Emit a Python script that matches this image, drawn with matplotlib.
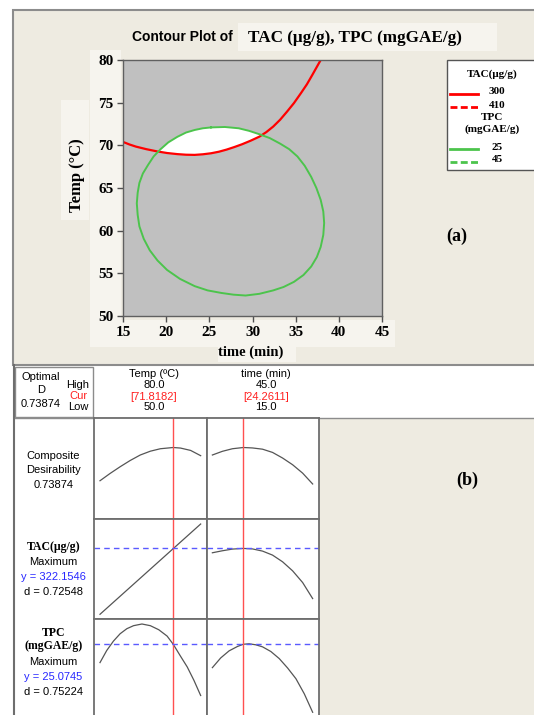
import numpy as np
import matplotlib.pyplot as plt
from matplotlib.patches import Rectangle

# ---- (a) contour plot ----
time_ticks = [15, 20, 25, 30, 35, 40, 45]
temp_ticks = [50, 55, 60, 65, 70, 75, 80]

# TAC = 300 contour (time, temp)
tac300_time = [15.0, 15.75, 16.5, 17.7, 18.9, 20.1, 21.3, 22.3, 23.3, 24.25, 25.2, 26.1, 27.0, 27.9,
               28.8, 29.8, 30.8, 31.6, 32.4, 33.2, 34.0, 34.8, 35.6, 36.3, 36.9, 37.4, 37.9]
tac300_temp = [70.4, 70.1, 69.85, 69.55, 69.3, 69.1, 68.97, 68.9, 68.88, 68.95, 69.07, 69.25, 69.5, 69.8,
               70.13, 70.55, 71.02, 71.55, 72.2, 73.0, 73.95, 74.95, 76.1, 77.15, 78.2, 79.1, 80.0]

# TPC = 25 contour (closed loop, from the top going clockwise)
tpc25_time = [25.2, 26.8, 28.4, 29.6, 30.8, 32.0, 33.2, 34.25, 35.2, 36.05, 36.8, 37.4,
              37.9, 38.2, 38.3, 38.2, 37.9, 37.45, 36.8, 35.9, 34.8, 33.6, 32.4, 30.8,
              29.2, 27.8, 26.4, 24.8, 23.3, 21.6, 20.1, 19.0, 18.1, 17.4, 16.9, 16.7,
              16.6, 16.7, 16.9, 17.3, 17.9, 18.55, 19.3, 20.25, 21.3, 22.3, 23.3, 24.25]
tpc25_temp = [72.1, 72.15, 72.0, 71.7, 71.3, 70.85, 70.2, 69.55, 68.7, 67.6, 66.3, 65.0,
              63.6, 62.25, 60.9, 59.5, 58.1, 56.9, 55.8, 54.8, 54.0, 53.4, 53.0, 52.6,
              52.4, 52.5, 52.7, 53.0, 53.5, 54.35, 55.4, 56.5, 57.7, 59.05, 60.5, 61.85,
              63.2, 64.45, 65.6, 66.7, 67.7, 68.7, 69.5, 70.35, 71.0, 71.5, 71.8, 72.0]

legend_tac = ["300", "410"]
legend_tpc = ["25", "45"]

# ---- (b) optimization plot ----
opt_d = 0.73874
opt_temp = 71.8182
opt_time = 24.2611
temp_high, temp_low = 80.0, 50.0
time_high, time_low = 45.0, 15.0
tac_y, tac_d = 322.1546, 0.72548
tpc_y, tpc_d = 25.0745, 0.75224

cd_temp_x = [50, 53, 56, 59, 62, 65, 68, 71.82, 74, 77, 80]
cd_temp_y = [0.442, 0.507, 0.567, 0.623, 0.672, 0.706, 0.728, 0.739, 0.734, 0.713, 0.666]
cd_time_x = [15, 18, 21, 24.26, 27, 30, 33, 36, 39, 42, 45]
cd_time_y = [0.672, 0.705, 0.728, 0.739, 0.735, 0.724, 0.695, 0.645, 0.585, 0.51, 0.413]

tac_temp_x = [50, 60, 70, 80]
tac_temp_y = [125, 215, 305, 395]
tac_time_x = [15, 18, 21, 24.26, 27, 30, 33, 36, 39, 42, 45]
tac_time_y = [309, 315, 320, 322, 320.5, 314, 302, 282, 255, 220, 172]

tpc_temp_x = [50, 52, 54, 56, 58, 60, 62.5, 65, 67.5, 70, 71.82, 74, 76, 78, 80]
tpc_temp_y = [19.6, 23.2, 26.0, 28.2, 29.7, 30.6, 31.1, 30.6, 29.4, 27.5, 25.07, 21.5, 18.3, 14.3, 9.8]
tpc_time_x = [15, 17.5, 20, 22.5, 24.26, 26, 28, 30, 32.5, 35, 37.5, 40, 42.5, 45]
tpc_time_y = [18.1, 21.0, 23.1, 24.4, 25.07, 25.2, 24.9, 24.3, 22.9, 20.8, 18.0, 14.8, 10.3, 4.8]

W, H = 534, 715
BEIGE = '#eeebe1'
LIGHT = '#f6f4ee'
GRAY = '#c0c0c0'
SERIF = 'Liberation Serif'
SANS = 'Liberation Sans'

fig = plt.figure(figsize=(W / 100, H / 100), dpi=100)
fig.patch.set_facecolor('white')


def px_axes(x0, y0, x1, y1, z=1):
    # axes placed by pixel box, origin top left
    return fig.add_axes([x0 / W, 1 - y1 / H, (x1 - x0) / W, (y1 - y0) / H], zorder=z)


# background canvas in pixel coordinates
bg = px_axes(0, 0, W, H, z=0)
bg.set_xlim(0, W)
bg.set_ylim(H, 0)
bg.axis('off')

# top panel
bg.add_patch(Rectangle((13, 10), 540, 355, facecolor=BEIGE, edgecolor='#8c8c8c', lw=1.5))
for x0, y0, x1, y1 in [(238, 23, 497, 51), (90, 50, 121, 347), (61, 100, 89, 220),
                       (121, 320, 395, 347), (218, 347, 296, 362)]:
    bg.add_patch(Rectangle((x0, y0), x1 - x0, y1 - y0, facecolor=LIGHT, edgecolor='none'))

bg.text(132, 37, "Contour Plot of", family=SANS, weight='bold', fontsize=10, va='center', ha='left')
bg.text(248, 38, "TAC (\u03bcg/g), TPC (mgGAE/g)", family=SERIF, weight='bold', fontsize=12.3,
        va='center', ha='left')
bg.text(77, 175, "Temp (\u00b0C)", family=SERIF, weight='bold', fontsize=12, rotation=90,
        va='center', ha='center')
bg.text(251, 352, "time (min)", family=SERIF, weight='bold', fontsize=10.5, va='center', ha='center')
bg.text(457, 236, "(a)", family=SERIF, weight='bold', fontsize=13, va='center', ha='center')

# legend
bg.add_patch(Rectangle((447, 60), 100, 110, facecolor='white', edgecolor='#555555', lw=1))
bg.text(492, 74, "TAC(\u03bcg/g)", family=SERIF, weight='bold', fontsize=8, ha='center', va='center')
bg.plot([450, 478], [94, 94], color='#ff0000', lw=2)
bg.plot([450, 478], [106.5, 106.5], color='#ff0000', lw=2, dashes=(2.5, 1.2))
bg.text(497, 92, legend_tac[0], family=SERIF, weight='bold', fontsize=8, ha='center', va='center')
bg.text(497, 105, legend_tac[1], family=SERIF, weight='bold', fontsize=8, ha='center', va='center')
bg.text(492, 118, "TPC", family=SERIF, weight='bold', fontsize=8, ha='center', va='center')
bg.text(492, 129.5, "(mgGAE/g)", family=SERIF, weight='bold', fontsize=8, ha='center', va='center')
bg.plot([450, 478], [149, 149], color='#4cc44c', lw=2)
bg.plot([450, 478], [162, 162], color='#4cc44c', lw=2, dashes=(2.5, 1.2))
bg.text(497, 147, legend_tpc[0], family=SERIF, weight='bold', fontsize=8, ha='center', va='center')
bg.text(497, 160, legend_tpc[1], family=SERIF, weight='bold', fontsize=8, ha='center', va='center')

# bottom panel frame
bg.plot([13.5, 13.5], [365, H], color='#6e6e6e', lw=1.5)
bg.add_patch(Rectangle((15, 367), 530, 50, facecolor='white', edgecolor='none'))
bg.add_patch(Rectangle((15, 367), 78, 50, facecolor='none', edgecolor='#8c8c8c', lw=1))
bg.plot([15, W], [417.5, 417.5], color='#8c8c8c', lw=1)
bg.add_patch(Rectangle((15, 418), 79, 300, facecolor='white', edgecolor='none'))
bg.add_patch(Rectangle((319, 418), 230, 300, facecolor=BEIGE, edgecolor='none'))
bg.text(467, 480, "(b)", family=SERIF, weight='bold', fontsize=13, va='center', ha='center')

# header info
for txt, y in [("Optimal", 377), ("D", 390), ("%.5f" % opt_d, 404)]:
    bg.text(41, y, txt, family=SANS, fontsize=8, ha='center', va='center')
bg.text(78, 385.5, "High", family=SANS, fontsize=8, ha='center', va='center')
bg.text(78, 396, "Cur", family=SANS, fontsize=8, ha='center', va='center', color='#ff2020')
bg.text(78, 407.5, "Low", family=SANS, fontsize=8, ha='center', va='center')
for xc, name, hi, cur, lo in [(154, "Temp (\u00baC)", temp_high, opt_temp, temp_low),
                              (266, "time (min)", time_high, opt_time, time_low)]:
    bg.text(xc, 374, name, family=SANS, fontsize=8, ha='center', va='center')
    bg.text(xc, 385, "%.1f" % hi, family=SANS, fontsize=8, ha='center', va='center')
    bg.text(xc, 396.5, "[%.4f]" % cur, family=SANS, fontsize=8, ha='center', va='center', color='#ff2020')
    bg.text(xc, 407.5, "%.1f" % lo, family=SANS, fontsize=8, ha='center', va='center')

# row labels
for txt, y in [("Composite", 455.7), ("Desirability", 469.7), ("%.5f" % opt_d, 484.7)]:
    bg.text(53.5, y, txt, family=SANS, fontsize=8, ha='center', va='center')
bg.text(53.5, 547, "TAC(\u03bcg/g)", family=SERIF, weight='bold', fontsize=8.5, ha='center', va='center')
bg.text(53.5, 562, "Maximum", family=SANS, fontsize=8, ha='center', va='center')
bg.text(53.5, 577, "y = %.4f" % tac_y, family=SANS, fontsize=8, ha='center', va='center', color='#2828ff')
bg.text(53.5, 592, "d = %.5f" % tac_d, family=SANS, fontsize=8, ha='center', va='center')
bg.text(53.5, 633, "TPC", family=SERIF, weight='bold', fontsize=8.5, ha='center', va='center')
bg.text(53.5, 646, "(mgGAE/g)", family=SERIF, weight='bold', fontsize=8.5, ha='center', va='center')
bg.text(53.5, 662, "Maximum", family=SANS, fontsize=8, ha='center', va='center')
bg.text(53.5, 676.5, "y = %.4f" % tpc_y, family=SANS, fontsize=8, ha='center', va='center', color='#2828ff')
bg.text(53.5, 692, "d = %.5f" % tpc_d, family=SANS, fontsize=8, ha='center', va='center')

# contour axes
ax = px_axes(123, 60, 382, 316, z=2)
ax.set_facecolor(GRAY)
# feasible region: the top of the TPC loop closed by the TAC curve between the crossings
region_time = tpc25_time[42:] + tpc25_time[:5] + tac300_time[16:3:-1]
region_temp = tpc25_temp[42:] + tpc25_temp[:5] + tac300_temp[16:3:-1]
ax.fill(region_time, region_temp, facecolor='white', edgecolor='white', lw=0.5, zorder=2)
ax.plot(tac300_time, tac300_temp, color='#ff0000', lw=1.6, zorder=3)
ax.plot(tpc25_time + tpc25_time[:1], tpc25_temp + tpc25_temp[:1], color='#4cc44c', lw=1.4, zorder=3)
ax.set_xlim(15, 45)
ax.set_ylim(50, 80)
ax.set_xticks(time_ticks)
ax.set_yticks(temp_ticks)
ax.set_xticklabels([str(t) for t in time_ticks], family=SERIF, weight='bold', fontsize=11)
ax.set_yticklabels([str(t) for t in temp_ticks], family=SERIF, weight='bold', fontsize=11)
ax.tick_params(direction='out', length=4, width=1, color='#505050', pad=3)
for s in ax.spines.values():
    s.set_color('#606060')
    s.set_linewidth(1)
    s.set_zorder(4)

# desirability cells
col_box = [(94.3, 206.7), (206.7, 319)]
row_box = [(418.3, 519), (519, 619.3), (619.3, 720)]
col_lim = [(48.3, 81.8), (13.3, 46.9)]
row_lim = [(0.1, 1.0), (110, 410), (2.5, 32.5)]
opt_x = [opt_temp, opt_time]
curves = [[(cd_temp_x, cd_temp_y), (cd_time_x, cd_time_y)],
          [(tac_temp_x, tac_temp_y), (tac_time_x, tac_time_y)],
          [(tpc_temp_x, tpc_temp_y), (tpc_time_x, tpc_time_y)]]
hlines = [None, tac_y, tpc_y]

for r in range(3):
    for c in range(2):
        cax = px_axes(col_box[c][0], row_box[r][0], col_box[c][1], row_box[r][1], z=2)
        cax.set_xlim(*col_lim[c])
        cax.set_ylim(*row_lim[r])
        cax.set_xticks([])
        cax.set_yticks([])
        for s in cax.spines.values():
            s.set_color('#6e6e6e')
            s.set_linewidth(1.3)
        xs, ys = curves[r][c]
        cax.plot(xs, ys, color='#555555', lw=0.9)
        cax.axvline(opt_x[c], color='#ff5050', lw=1)
        if hlines[r] is not None:
            cax.axhline(hlines[r], color='#5a5aff', lw=1, dashes=(4, 3))

fig.savefig('out.png', dpi=100)
